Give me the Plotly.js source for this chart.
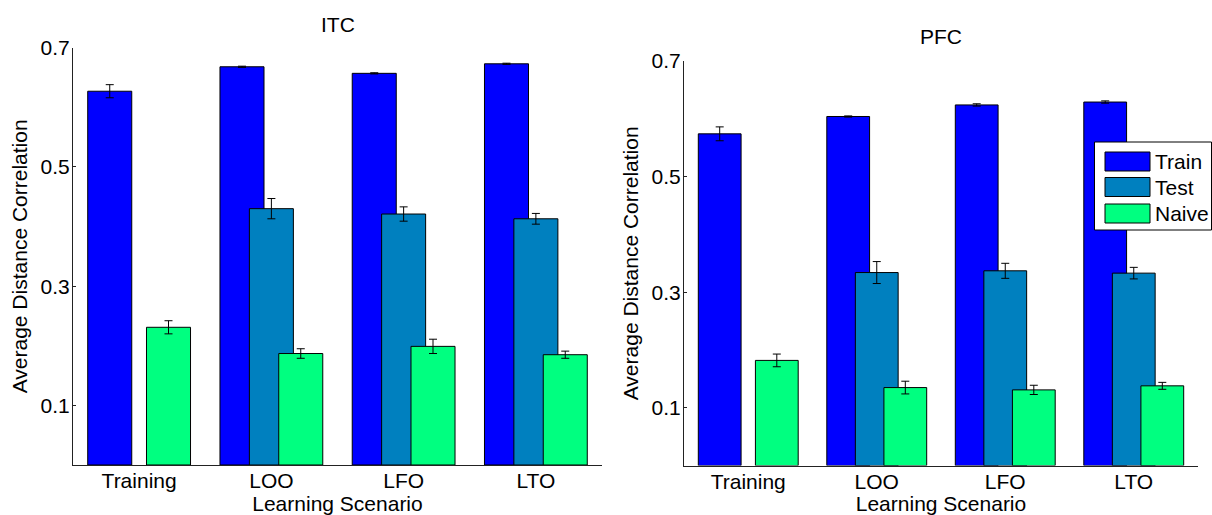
<!DOCTYPE html>
<html>
<head>
<meta charset="utf-8">
<script src="https://cdn.plot.ly/plotly-3.0.1.min.js"></script>
<style>html,body{margin:0;padding:0;background:#fff;}#chart{width:1212px;height:515px;}</style>
</head>
<body>
<div id="chart"></div>
<script>
// ---------------- data ----------------
var scenarios = ["Training", "LOO", "LFO", "LTO"];
var seriesNames = ["Train", "Test", "Naive"];
var seriesColors = ["#0000ff", "#0080bf", "#00ff80"];
var yTicks = [0.1, 0.3, 0.5, 0.7];
var panelTitles = ["ITC", "PFC"];

// ITC
var itcTrain = [0.627, 0.668, 0.657, 0.673];
var itcTrainErr = [0.011, 0.001, 0.001, 0.001];
var itcTest = [null, 0.430, 0.421, 0.413];
var itcTestErr = [0, 0.017, 0.012, 0.009];
var itcNaive = [0.231, 0.187, 0.199, 0.185];
var itcNaiveErr = [0.011, 0.008, 0.012, 0.006];

// PFC
var pfcTrain = [0.574, 0.604, 0.624, 0.629];
var pfcTrainErr = [0.012, 0.001, 0.002, 0.002];
var pfcTest = [null, 0.334, 0.337, 0.333];
var pfcTestErr = [0, 0.019, 0.013, 0.010];
var pfcNaive = [0.182, 0.135, 0.131, 0.138];
var pfcNaiveErr = [0.011, 0.011, 0.008, 0.006];

// ---------------- layout helpers ----------------
var W = 1212, H = 515;
function fx(px) { return px / W; }
function fy(py) { return 1 - py / H; }
var FONT = "Liberation Sans, Arial, Helvetica, sans-serif";
var FS = 21;

var barW = 0.333, step = 0.2222;
var offsets = [-step - barW / 2, -barW / 2, step - barW / 2];

var panels = [
  {vals: [itcTrain, itcTest, itcNaive], errs: [itcTrainErr, itcTestErr, itcNaiveErr], xa: "x", ya: "y"},
  {vals: [pfcTrain, pfcTest, pfcNaive], errs: [pfcTrainErr, pfcTestErr, pfcNaiveErr], xa: "x2", ya: "y2"}
];

var traces = [];
panels.forEach(function (p) {
  for (var s = 0; s < 3; s++) {
    traces.push({
      type: "bar",
      name: seriesNames[s],
      x: scenarios,
      y: p.vals[s],
      xaxis: p.xa,
      yaxis: p.ya,
      width: barW,
      offset: offsets[s],
      marker: {color: seriesColors[s], line: {color: "#000", width: 1}},
      error_y: {type: "data", array: p.errs[s], visible: true, color: "#000", thickness: 1, width: 4},
      showlegend: false,
      hoverinfo: "x+y"
    });
  }
});

function xAxis(dom, anchor) {
  return {
    domain: dom, anchor: anchor, type: "category", range: [-0.5, 3.5],
    showline: true, linecolor: "#222", linewidth: 1, mirror: false,
    ticks: "", showgrid: false, zeroline: false,
    ticklabelstandoff: -3,
    tickfont: {family: FONT, size: FS, color: "#000"},
    title: {text: "Learning Scenario", font: {family: FONT, size: FS, color: "#000"}, standoff: 4},
    automargin: false, fixedrange: true
  };
}
function yAxis(dom, anchor) {
  return {
    domain: dom, anchor: anchor, range: [0, 0.7],
    tickvals: yTicks, ticktext: yTicks.map(function (v) { return v.toFixed(1); }),
    showline: true, linecolor: "#222", linewidth: 1, mirror: false,
    ticks: "inside", ticklen: 3, tickcolor: "#222", showgrid: false, zeroline: false,
    ticklabelstandoff: -2,
    tickfont: {family: FONT, size: FS, color: "#000"},
    title: {text: "Average Distance Correlation", font: {family: FONT, size: FS, color: "#000"}, standoff: 7},
    automargin: false, fixedrange: true
  };
}

var shapes = [];
var annotations = [];

// subplot titles
annotations.push({text: panelTitles[0], xref: "paper", yref: "paper", x: fx(337.5), y: fy(24), xanchor: "center", yanchor: "middle", showarrow: false, font: {family: FONT, size: FS, color: "#000"}});
annotations.push({text: panelTitles[1], xref: "paper", yref: "paper", x: fx(941), y: fy(36), xanchor: "center", yanchor: "middle", showarrow: false, font: {family: FONT, size: FS, color: "#000"}});

// legend (drawn manually to get the large swatches)
shapes.push({type: "rect", xref: "paper", yref: "paper", x0: fx(1094.5), x1: fx(1211.5), y0: fy(230), y1: fy(142), fillcolor: "#fff", line: {color: "#000", width: 1}, layer: "above"});
var rowTop = [152, 177.5, 204], rowH = 19;
for (var s = 0; s < 3; s++) {
  shapes.push({type: "rect", xref: "paper", yref: "paper", x0: fx(1105), x1: fx(1150), y0: fy(rowTop[s] + rowH), y1: fy(rowTop[s]), fillcolor: seriesColors[s], line: {color: "#000", width: 1}, layer: "above"});
  annotations.push({text: seriesNames[s], xref: "paper", yref: "paper", x: fx(1153), y: fy(rowTop[s] + rowH / 2), xanchor: "left", yanchor: "middle", showarrow: false, font: {family: FONT, size: FS, color: "#000"}});
}

var layout = {
  width: W, height: H,
  margin: {l: 0, r: 0, t: 0, b: 0},
  paper_bgcolor: "#fff", plot_bgcolor: "#fff",
  barmode: "overlay",
  showlegend: false,
  font: {family: FONT, size: FS, color: "#000"},
  xaxis: xAxis([fx(73), fx(602)], "y"),
  yaxis: yAxis([fy(465), fy(47.7)], "x"),
  xaxis2: xAxis([fx(684), fx(1198)], "y2"),
  yaxis2: yAxis([fy(465.6), fy(61)], "x2"),
  shapes: shapes,
  annotations: annotations
};

Plotly.newPlot("chart", traces, layout, {displayModeBar: false, staticPlot: true});
</script>
</body>
</html>
